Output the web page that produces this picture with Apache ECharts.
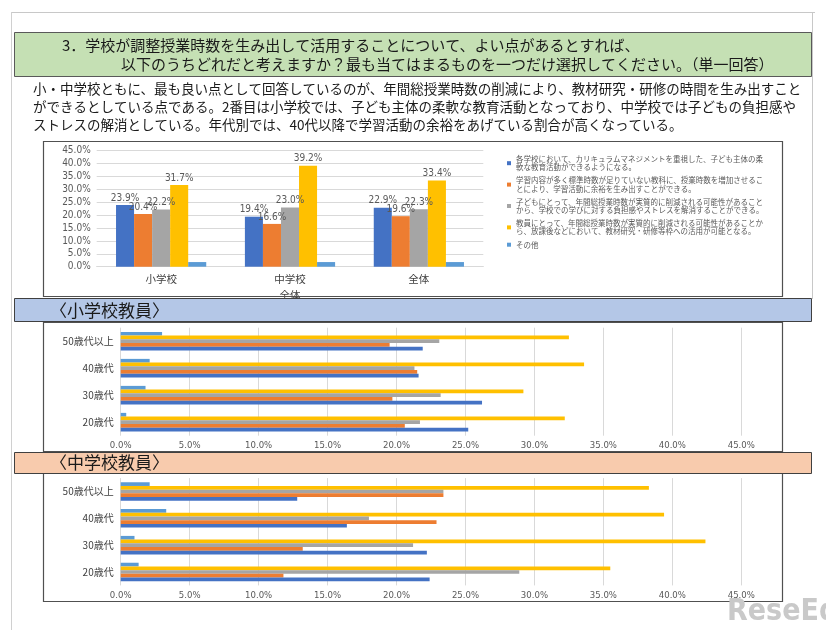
<!DOCTYPE html>
<html>
<head>
<meta charset="utf-8">
<title>調整授業時数 よい点</title>
<script src="https://cdn.jsdelivr.net/npm/echarts@6/dist/echarts.min.js"></script>
<style>
  html, body { margin: 0; padding: 0; background: #fff; }
  #main { width: 826px; height: 630px; }
</style>
</head>
<body>
<div id="main"></div>
<script>
// 上段：学校種別（小学校・中学校・全体）
var schoolCats = ['小学校', '中学校', '全体'];
var allBlue   = [23.9, 19.4, 22.9];
var allOrange = [20.4, 16.6, 19.6];
var allGray   = [22.2, 23.0, 22.3];
var allYellow = [31.7, 39.2, 33.4];
var allOther  = [1.8, 1.8, 1.8];

// 年代別（下から上へ）
var ageCats = ['20歳代', '30歳代', '40歳代', '50歳代以上'];
// 小学校教員
var esBlue   = [25.2, 26.2, 21.6, 21.9];
var esOrange = [20.6, 19.7, 21.5, 19.5];
var esGray   = [21.7, 23.2, 21.3, 23.1];
var esYellow = [32.2, 29.2, 33.6, 32.5];
var esOther  = [0.4, 1.8, 2.1, 3.0];
// 中学校教員
var jhBlue   = [22.4, 22.2, 16.4, 12.8];
var jhOrange = [11.8, 13.2, 22.9, 23.4];
var jhGray   = [28.9, 21.2, 18.0, 23.4];
var jhYellow = [35.5, 42.4, 39.4, 38.3];
var jhOther  = [1.3, 1.0, 3.3, 2.1];

// 選択肢（凡例）
var itemNames = [
  '各学校において、カリキュラムマネジメントを重視した、子ども主体の柔\n軟な教育活動ができるようになる。',
  '学習内容が多く標準時数が足りていない教科に、授業時数を増加させるこ\nとにより、学習活動に余裕を生み出すことができる。',
  '子どもにとって、年間総授業時数が実質的に削減される可能性があること\nから、学校での学びに対する負担感やストレスを解消することができる。',
  '教員にとって、年間総授業時数が実質的に削減される可能性があることか\nら、放課後などにおいて、教材研究・研修等枠への活用が可能となる。',
  'その他'
];
var colors = ['#4472c4', '#ed7d31', '#a5a5a5', '#ffc000', '#5b9bd5'];

var jp = '"Noto Sans CJK JP", sans-serif';
var num = '"DejaVu Sans Condensed", "Liberation Sans Narrow", "Noto Sans CJK JP", sans-serif';

var chart = echarts.init(document.getElementById('main'));

function pct(v) { return v.toFixed(1) + '%'; }

// 上段の縦棒
var topData = [allBlue, allOrange, allGray, allYellow, allOther];
var series = [];
for (var i = 0; i < 5; i++) {
  series.push({
    name: itemNames[i],
    type: 'bar',
    xAxisIndex: 0,
    yAxisIndex: 0,
    barGap: '0%',
    barCategoryGap: '30%',
    itemStyle: { color: colors[i] },
    label: {
      show: i < 4,
      position: 'top',
      distance: 2,
      formatter: function (p) { return pct(p.value); },
      fontSize: 10,
      fontFamily: num,
      color: '#595959'
    },
    data: topData[i]
  });
}

// 下段の横棒（その他が一番上になるよう逆順）
function addAgeSeries(idx, arrs) {
  for (var k = 4; k >= 0; k--) {
    series.push({
      name: itemNames[k],
      type: 'bar',
      xAxisIndex: idx,
      yAxisIndex: idx,
      barGap: '0%',
      barCategoryGap: '31%',
      itemStyle: { color: colors[k] },
      data: arrs[k]
    });
  }
}
addAgeSeries(1, [esBlue, esOrange, esGray, esYellow, esOther]);
addAgeSeries(2, [jhBlue, jhOrange, jhGray, jhYellow, jhOther]);

function valueAxis(idx) {
  return {
    type: 'value', gridIndex: idx, min: 0, max: 45, interval: 5,
    axisLine: { show: false }, axisTick: { show: false },
    splitLine: { lineStyle: { color: '#d9d9d9' } },
    axisLabel: { formatter: pct, fontSize: 9.5, fontFamily: num, color: '#595959', margin: 5 }
  };
}
function ageAxis(idx) {
  return {
    type: 'category', gridIndex: idx, data: ageCats,
    axisLine: { show: false }, axisTick: { show: false },
    axisLabel: { fontSize: 10, fontFamily: jp, color: '#404040', margin: 7 }
  };
}

var option = {
  backgroundColor: '#fff',
  animation: false,
  grid: [
    { left: 96.7, top: 150.7, width: 386.6, height: 116 },
    { left: 120.7, top: 327.7, width: 620.6, height: 108 },
    { left: 120.7, top: 478.1, width: 620.6, height: 107.3 }
  ],
  legend: {
    data: itemNames.map(function (n) { return { name: n, icon: 'rect' }; }),
    orient: 'vertical',
    left: 507,
    top: 155,
    padding: 0,
    itemWidth: 4,
    itemHeight: 4,
    itemGap: 5,
    selectedMode: false,
    textStyle: { fontSize: 7.5, lineHeight: 8.2, color: '#595959', fontFamily: jp }
  },
  xAxis: [
    {
      type: 'category', gridIndex: 0, data: schoolCats,
      axisTick: { show: false },
      axisLine: { lineStyle: { color: '#d9d9d9' } },
      axisLabel: { fontSize: 10.5, fontFamily: jp, color: '#404040', margin: 7 },
      name: '全体', nameLocation: 'middle', nameGap: 23,
      nameTextStyle: { fontSize: 10.5, fontFamily: jp, color: '#404040' }
    },
    valueAxis(1),
    valueAxis(2)
  ],
  yAxis: [
    {
      type: 'value', gridIndex: 0, min: 0, max: 45, interval: 5,
      axisLine: { show: false }, axisTick: { show: false },
      splitLine: { lineStyle: { color: '#d9d9d9' } },
      axisLabel: { formatter: pct, fontSize: 10, fontFamily: num, color: '#595959', margin: 6 }
    },
    ageAxis(1),
    ageAxis(2)
  ],
  graphic: [
    // 外枠
    { type: 'line', z: 5, shape: { x1: 11, y1: 12.5, x2: 815, y2: 12.5 }, style: { stroke: '#c8c8c8', lineWidth: 1 } },
    { type: 'line', z: 5, shape: { x1: 11.5, y1: 12, x2: 11.5, y2: 630 }, style: { stroke: '#d0d0d0', lineWidth: 1 } },
    { type: 'line', z: 5, shape: { x1: 812.5, y1: 12, x2: 812.5, y2: 299 }, style: { stroke: '#c8c8c8', lineWidth: 1 } },
    // 設問見出し
    { type: 'rect', z: 5, shape: { x: 14.5, y: 32.5, width: 797, height: 44 }, style: { fill: '#c5e0b4', stroke: '#595959', lineWidth: 1 } },
    { type: 'text', z: 6, style: { text: '3．学校が調整授業時数を生み出して活用することについて、よい点があるとすれば、', x: 62, y: 45, font: '15px ' + jp, fill: '#1a1a1a', textVerticalAlign: 'middle' } },
    { type: 'text', z: 6, style: { text: '以下のうちどれだと考えますか？最も当てはまるものを一つだけ選択してください。（単一回答）', x: 121, y: 64, font: '15px ' + jp, fill: '#1a1a1a', textVerticalAlign: 'middle' } },
    // 説明文
    { type: 'text', z: 6, style: { text: '小・中学校ともに、最も良い点として回答しているのが、年間総授業時数の削減により、教材研究・研修の時間を生み出すこと', x: 33, y: 89, font: '13.5px ' + jp, fill: '#1a1a1a', textVerticalAlign: 'middle' } },
    { type: 'text', z: 6, style: { text: 'ができるとしている点である。2番目は小学校では、子ども主体の柔軟な教育活動となっており、中学校では子どもの負担感や', x: 33, y: 107, font: '13.5px ' + jp, fill: '#1a1a1a', textVerticalAlign: 'middle' } },
    { type: 'text', z: 6, style: { text: 'ストレスの解消としている。年代別では、40代以降で学習活動の余裕をあげている割合が高くなっている。', x: 33, y: 125, font: '13.5px ' + jp, fill: '#1a1a1a', textVerticalAlign: 'middle' } },
    // グラフ枠
    { type: 'rect', z: 5, shape: { x: 43.5, y: 141.5, width: 739, height: 155 }, style: { fill: 'none', stroke: '#505050', lineWidth: 1.2 } },
    { type: 'rect', z: 5, shape: { x: 43.5, y: 322.5, width: 739, height: 129 }, style: { fill: 'none', stroke: '#505050', lineWidth: 1.2 } },
    { type: 'rect', z: 5, shape: { x: 43.5, y: 473.5, width: 739, height: 128 }, style: { fill: 'none', stroke: '#505050', lineWidth: 1.2 } },
    // 小学校教員 帯
    { type: 'rect', z: 7, shape: { x: 14.5, y: 298.5, width: 797, height: 23 }, style: { fill: '#b4c7e7', stroke: '#404040', lineWidth: 1 } },
    { type: 'text', z: 8, style: { text: '〈小学校教員〉', x: 50, y: 311, font: '17px ' + jp, fill: '#1a1a1a', textVerticalAlign: 'middle' } },
    // 中学校教員 帯
    { type: 'rect', z: 7, shape: { x: 14.5, y: 452.5, width: 797, height: 21 }, style: { fill: '#f8cbad', stroke: '#404040', lineWidth: 1 } },
    { type: 'text', z: 8, style: { text: '〈中学校教員〉', x: 50, y: 463, font: '17px ' + jp, fill: '#1a1a1a', textVerticalAlign: 'middle' } },
    // ロゴ
    { type: 'text', z: 8, style: { text: 'ReseEd', x: 727, y: 612, font: 'bold 30px "DejaVu Sans Condensed", "DejaVu Sans", sans-serif', fill: '#c9c9c9', textVerticalAlign: 'middle' } }
  ],
  series: series
};

chart.setOption(option);
</script>
</body>
</html>
